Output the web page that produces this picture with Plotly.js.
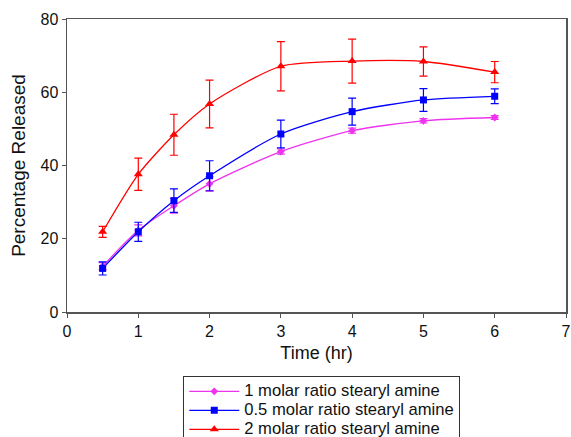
<!DOCTYPE html>
<html><head><meta charset="utf-8">
<script src="https://cdn.plot.ly/plotly-3.0.1.min.js"></script>
<style>body{margin:0;padding:0;background:#fff}</style>
</head><body>
<div id="chart" style="width:571px;height:437px"></div>
<script>
const time = [0.5, 1, 1.5, 2, 3, 4, 5, 6];
const oneMolar = [12.5, 22.3, 29.0, 35.0, 43.8, 49.5, 52.2, 53.1];
const oneMolarErr = [1.0, 1.5, 2.0, 2.0, 0.7, 0.7, 0.6, 0.5];
const halfMolar = [11.9, 21.9, 30.4, 37.2, 48.6, 54.7, 57.9, 58.9];
const halfMolarErr = [1.8, 2.6, 3.2, 4.1, 3.8, 3.7, 3.1, 2.0];
const twoMolar = [21.9, 37.6, 48.4, 56.8, 67.1, 68.5, 68.4, 65.5];
const twoMolarErr = [1.5, 4.4, 5.6, 6.5, 6.7, 6.0, 4.0, 2.9];
const names = ['1 molar ratio stearyl amine', '0.5 molar ratio stearyl amine', '2 molar ratio stearyl amine'];

function label(s) { return '<span style="font-size:16.6px">' + s + '</span>'; }
function tr(y, err, name, color, sym, size) {
  return {
    x: time, y: y, name: label(name), type: 'scatter', mode: 'lines+markers',
    line: {color: color, width: 1.3, shape: 'spline', smoothing: 0.7},
    marker: {color: color, symbol: sym, size: size},
    error_y: {type: 'data', array: err, visible: true, color: color, thickness: 1.2, width: 4}
  };
}
const data = [
  tr(oneMolar, oneMolarErr, names[0], '#ee33ee', 'diamond', 6),
  tr(halfMolar, halfMolarErr, names[1], '#0000ff', 'square', 7),
  tr(twoMolar, twoMolarErr, names[2], '#ff0000', 'triangle-up', 8)
];
const axisCommon = {
  showline: true, linecolor: '#555', linewidth: 1.5, mirror: true,
  ticks: 'outside', ticklen: 4, tickcolor: '#555', showgrid: false, zeroline: false,
  tickfont: {family: 'Liberation Sans, Arial, sans-serif', size: 16, color: '#111'}
};
const layout = {
  width: 571, height: 437,
  margin: {l: 67, r: 5, t: 19, b: 125, autoexpand: false},
  paper_bgcolor: '#fff', plot_bgcolor: '#fff',
  font: {family: 'Liberation Sans, Arial, sans-serif', color: '#111'},
  xaxis: Object.assign({}, axisCommon, {range: [0, 7], dtick: 1,
    title: {text: 'Time (hr)', font: {size: 18}, standoff: 7}}),
  yaxis: Object.assign({}, axisCommon, {range: [0, 80], dtick: 20,
    title: {text: 'Percentage Released', font: {size: 19}, standoff: 10}}),
  showlegend: true,
  legend: {x: 0.233, y: -0.218, xanchor: 'left', yanchor: 'top',
    bordercolor: '#333', borderwidth: 1, font: {size: 11},
    tracegroupgap: 0, itemwidth: 50}
};
Plotly.newPlot('chart', data, layout, {displayModeBar: false, staticPlot: true});
</script>
</body></html>
